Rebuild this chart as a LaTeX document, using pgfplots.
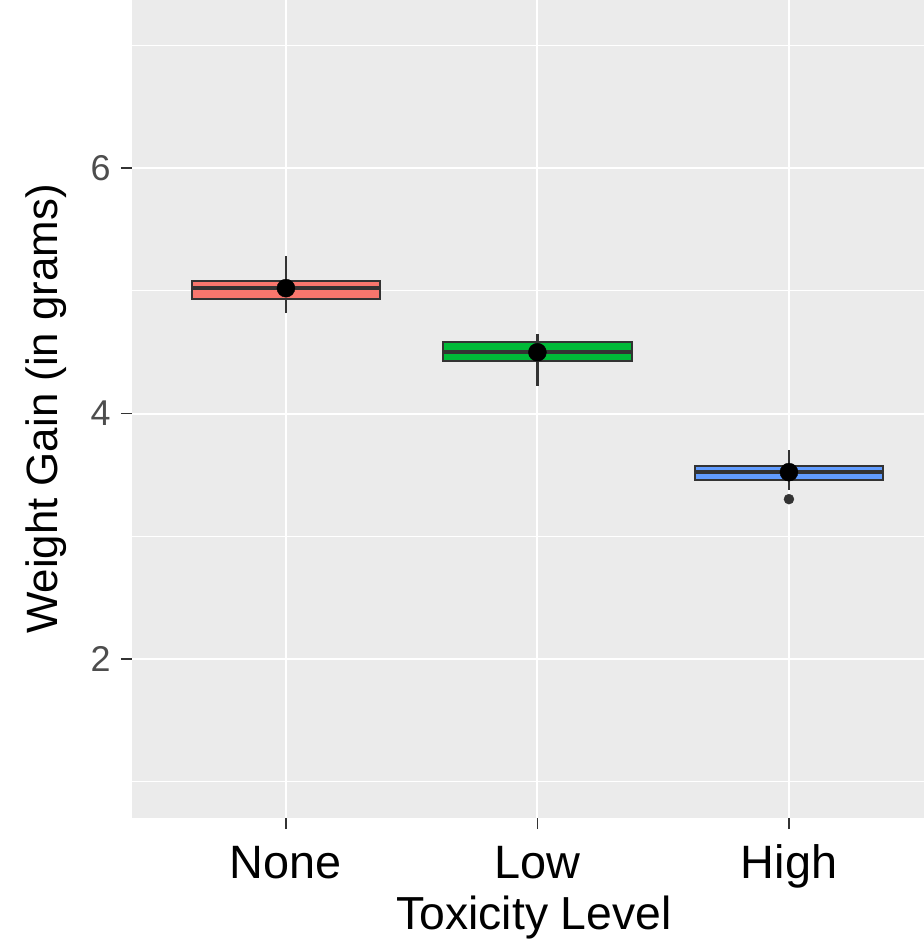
\documentclass[border=0pt]{standalone}
\usepackage{pgfplots}
\pgfplotsset{compat=1.18}
\usepgfplotslibrary{statistics}
\usepackage{fontspec}
\setmainfont{Liberation Sans}
\definecolor{panel}{HTML}{EBEBEB}
\definecolor{cNone}{HTML}{F8766D}
\definecolor{cLow}{HTML}{00BA38}
\definecolor{cHigh}{HTML}{619CFF}
\definecolor{edge}{HTML}{333333}
\definecolor{ticktext}{HTML}{4D4D4D}
\begin{document}
\begin{tikzpicture}
\begin{axis}[
  at={(0,0)}, anchor=south west,
  scale only axis, width=792bp, height=818bp,
  xmin=0.388, xmax=3.537, ymin=0.705, ymax=7.37,
  axis background/.style={fill=panel},
  axis line style={draw=none},
  xtick={1,2,3}, xticklabels={None,Low,High},
  ytick={2,4,6}, minor ytick={1,3,5,7},
  grid=both,
  major grid style={white, line width=2bp},
  minor grid style={white, line width=1bp},
  tick align=outside,
  major tick length=11bp,
  minor tick length=0pt,
  tick style={edge, line width=1.5bp},
  /pgf/number format/assume math mode=true,
  yticklabel style={font=\fontsize{36}{40}\selectfont, text=ticktext, xshift=-7bp},
  xticklabel style={font=\fontsize{47}{52}\selectfont, text=black, text height=34bp, text depth=10bp, anchor=north, yshift=-12bp},
  xlabel={Toxicity Level}, ylabel={Weight Gain (in grams)},
  xlabel style={font=\fontsize{46.5}{48}\selectfont, at={(rel axis cs:0.5076,-0.1222)}, anchor=center},
  ylabel style={font=\fontsize{44}{48}\selectfont, at={(rel axis cs:-0.1086,0.5)}, anchor=center},
  boxplot/draw direction=y,
  boxplot/every whisker/.style={line width=2.2bp},
  boxplot/every median/.style={line width=4bp},
  boxplot/every box/.style={line width=2bp},
]
\addplot[boxplot prepared={draw position=1, lower whisker=4.819, lower quartile=4.930, median=5.025, upper quartile=5.082, upper whisker=5.283, box extend=0.75, whisker extend=0}, draw=edge, fill=cNone, solid, mark=none] coordinates {};
\addplot[boxplot prepared={draw position=2, lower whisker=4.226, lower quartile=4.428, median=4.501, upper quartile=4.580, upper whisker=4.645, box extend=0.75, whisker extend=0}, draw=edge, fill=cLow, solid, mark=none] coordinates {};
\addplot[boxplot prepared={draw position=3, lower whisker=3.377, lower quartile=3.458, median=3.523, upper quartile=3.572, upper whisker=3.703, box extend=0.75, whisker extend=0}, draw=edge, fill=cHigh, solid, mark=none] coordinates {};
\addplot[only marks, mark=*, mark size=5bp, edge, mark options={draw=edge, fill=edge}] coordinates {(3,3.303)};
\addplot[only marks, mark=*, mark size=9bp, black] coordinates {(1,5.022) (2,4.50) (3,3.523)};
\end{axis}
\pgfresetboundingbox
\path[use as bounding box] (-132bp,-123bp) rectangle (792bp,818bp);
\end{tikzpicture}
\end{document}
